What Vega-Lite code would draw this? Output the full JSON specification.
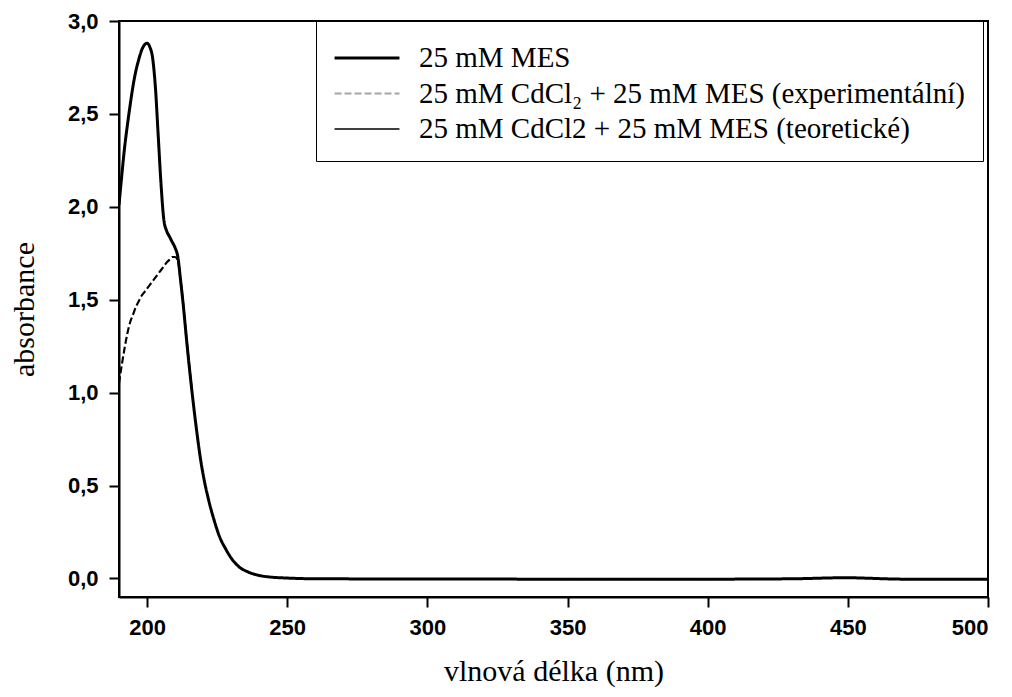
{
  "$schema": "https://vega.github.io/schema/vega-lite/v6.json",
  "autosize": "none",
  "padding": {"left": 119, "top": 21, "right": 24, "bottom": 100},
  "width": 869,
  "height": 576,
  "background": "white",
  "config": {
    "view": {"stroke": "black", "strokeWidth": 2},
    "axis": {"domainColor": "black", "domainWidth": 2, "tickColor": "black", "tickWidth": 2, "tickSize": 10, "grid": false,
      "labelFont": "Liberation Sans", "labelFontSize": 22, "labelFontWeight": "bold", "labelColor": "black",
      "titleFont": "Liberation Serif", "titleFontWeight": "normal", "titleColor": "black", "titleFontSize": 30, "titleBaseline": "alphabetic"}
  },
  "datasets": {
    "spectra": [
      {"nm": 190, "a": 2.01, "s": "25 mM MES"}, {"nm": 191, "a": 2.17, "s": "25 mM MES"}, {"nm": 192, "a": 2.32, "s": "25 mM MES"},
      {"nm": 193, "a": 2.44, "s": "25 mM MES"}, {"nm": 194, "a": 2.55, "s": "25 mM MES"}, {"nm": 195, "a": 2.65, "s": "25 mM MES"},
      {"nm": 196, "a": 2.73, "s": "25 mM MES"}, {"nm": 197, "a": 2.79, "s": "25 mM MES"}, {"nm": 198, "a": 2.84, "s": "25 mM MES"},
      {"nm": 199, "a": 2.87, "s": "25 mM MES"}, {"nm": 200, "a": 2.88, "s": "25 mM MES"}, {"nm": 201, "a": 2.86, "s": "25 mM MES"},
      {"nm": 202, "a": 2.8, "s": "25 mM MES"}, {"nm": 203, "a": 2.64, "s": "25 mM MES"}, {"nm": 204, "a": 2.38, "s": "25 mM MES"},
      {"nm": 205, "a": 2.12, "s": "25 mM MES"}, {"nm": 206, "a": 1.93, "s": "25 mM MES"}, {"nm": 207, "a": 1.87, "s": "25 mM MES"},
      {"nm": 208, "a": 1.84, "s": "25 mM MES"}, {"nm": 209, "a": 1.81, "s": "25 mM MES"}, {"nm": 210, "a": 1.78, "s": "25 mM MES"},
      {"nm": 211, "a": 1.73, "s": "25 mM MES"}, {"nm": 212, "a": 1.6, "s": "25 mM MES"}, {"nm": 213, "a": 1.46, "s": "25 mM MES"},
      {"nm": 214, "a": 1.3, "s": "25 mM MES"}, {"nm": 215, "a": 1.15, "s": "25 mM MES"}, {"nm": 216, "a": 1.01, "s": "25 mM MES"},
      {"nm": 217, "a": 0.88, "s": "25 mM MES"}, {"nm": 218, "a": 0.76, "s": "25 mM MES"}, {"nm": 219, "a": 0.65, "s": "25 mM MES"},
      {"nm": 220, "a": 0.56, "s": "25 mM MES"}, {"nm": 222, "a": 0.42, "s": "25 mM MES"}, {"nm": 224, "a": 0.31, "s": "25 mM MES"},
      {"nm": 226, "a": 0.22, "s": "25 mM MES"}, {"nm": 228, "a": 0.16, "s": "25 mM MES"}, {"nm": 230, "a": 0.11, "s": "25 mM MES"},
      {"nm": 233, "a": 0.06, "s": "25 mM MES"}, {"nm": 236, "a": 0.035, "s": "25 mM MES"}, {"nm": 240, "a": 0.016, "s": "25 mM MES"},
      {"nm": 245, "a": 0.006, "s": "25 mM MES"}, {"nm": 250, "a": 0.002, "s": "25 mM MES"}, {"nm": 260, "a": -0.002, "s": "25 mM MES"},
      {"nm": 300, "a": -0.003, "s": "25 mM MES"}, {"nm": 350, "a": -0.004, "s": "25 mM MES"}, {"nm": 400, "a": -0.004, "s": "25 mM MES"},
      {"nm": 430, "a": -0.002, "s": "25 mM MES"}, {"nm": 445, "a": 0.003, "s": "25 mM MES"}, {"nm": 450, "a": 0.004, "s": "25 mM MES"},
      {"nm": 455, "a": 0.002, "s": "25 mM MES"}, {"nm": 470, "a": -0.004, "s": "25 mM MES"}, {"nm": 500, "a": -0.005, "s": "25 mM MES"},

      {"nm": 190, "a": 1.05, "s": "25 mM CdCl₂ + 25 mM MES (experimentální)"}, {"nm": 191, "a": 1.15, "s": "25 mM CdCl₂ + 25 mM MES (experimentální)"},
      {"nm": 192, "a": 1.24, "s": "25 mM CdCl₂ + 25 mM MES (experimentální)"}, {"nm": 193, "a": 1.32, "s": "25 mM CdCl₂ + 25 mM MES (experimentální)"},
      {"nm": 194, "a": 1.38, "s": "25 mM CdCl₂ + 25 mM MES (experimentální)"}, {"nm": 195, "a": 1.42, "s": "25 mM CdCl₂ + 25 mM MES (experimentální)"},
      {"nm": 196, "a": 1.46, "s": "25 mM CdCl₂ + 25 mM MES (experimentální)"}, {"nm": 197, "a": 1.49, "s": "25 mM CdCl₂ + 25 mM MES (experimentální)"},
      {"nm": 198, "a": 1.52, "s": "25 mM CdCl₂ + 25 mM MES (experimentální)"}, {"nm": 199, "a": 1.54, "s": "25 mM CdCl₂ + 25 mM MES (experimentální)"},
      {"nm": 200, "a": 1.56, "s": "25 mM CdCl₂ + 25 mM MES (experimentální)"}, {"nm": 201, "a": 1.58, "s": "25 mM CdCl₂ + 25 mM MES (experimentální)"},
      {"nm": 202, "a": 1.6, "s": "25 mM CdCl₂ + 25 mM MES (experimentální)"}, {"nm": 203, "a": 1.62, "s": "25 mM CdCl₂ + 25 mM MES (experimentální)"},
      {"nm": 204, "a": 1.64, "s": "25 mM CdCl₂ + 25 mM MES (experimentální)"}, {"nm": 205, "a": 1.66, "s": "25 mM CdCl₂ + 25 mM MES (experimentální)"},
      {"nm": 206, "a": 1.68, "s": "25 mM CdCl₂ + 25 mM MES (experimentální)"}, {"nm": 207, "a": 1.7, "s": "25 mM CdCl₂ + 25 mM MES (experimentální)"},
      {"nm": 208, "a": 1.715, "s": "25 mM CdCl₂ + 25 mM MES (experimentální)"}, {"nm": 209, "a": 1.73, "s": "25 mM CdCl₂ + 25 mM MES (experimentální)"},
      {"nm": 210, "a": 1.73, "s": "25 mM CdCl₂ + 25 mM MES (experimentální)"}, {"nm": 211, "a": 1.71, "s": "25 mM CdCl₂ + 25 mM MES (experimentální)"},
      {"nm": 212, "a": 1.6, "s": "25 mM CdCl₂ + 25 mM MES (experimentální)"}, {"nm": 213, "a": 1.46, "s": "25 mM CdCl₂ + 25 mM MES (experimentální)"},
      {"nm": 214, "a": 1.3, "s": "25 mM CdCl₂ + 25 mM MES (experimentální)"}, {"nm": 216, "a": 1.01, "s": "25 mM CdCl₂ + 25 mM MES (experimentální)"},

      {"nm": 190, "a": 2.01, "s": "25 mM CdCl2 + 25 mM MES (teoretické)"}, {"nm": 191, "a": 2.17, "s": "25 mM CdCl2 + 25 mM MES (teoretické)"},
      {"nm": 192, "a": 2.32, "s": "25 mM CdCl2 + 25 mM MES (teoretické)"}, {"nm": 193, "a": 2.44, "s": "25 mM CdCl2 + 25 mM MES (teoretické)"},
      {"nm": 194, "a": 2.55, "s": "25 mM CdCl2 + 25 mM MES (teoretické)"}, {"nm": 195, "a": 2.65, "s": "25 mM CdCl2 + 25 mM MES (teoretické)"},
      {"nm": 196, "a": 2.73, "s": "25 mM CdCl2 + 25 mM MES (teoretické)"}, {"nm": 197, "a": 2.79, "s": "25 mM CdCl2 + 25 mM MES (teoretické)"},
      {"nm": 198, "a": 2.84, "s": "25 mM CdCl2 + 25 mM MES (teoretické)"}, {"nm": 199, "a": 2.87, "s": "25 mM CdCl2 + 25 mM MES (teoretické)"},
      {"nm": 200, "a": 2.88, "s": "25 mM CdCl2 + 25 mM MES (teoretické)"}, {"nm": 201, "a": 2.86, "s": "25 mM CdCl2 + 25 mM MES (teoretické)"},
      {"nm": 202, "a": 2.8, "s": "25 mM CdCl2 + 25 mM MES (teoretické)"}, {"nm": 203, "a": 2.64, "s": "25 mM CdCl2 + 25 mM MES (teoretické)"},
      {"nm": 204, "a": 2.38, "s": "25 mM CdCl2 + 25 mM MES (teoretické)"}, {"nm": 205, "a": 2.12, "s": "25 mM CdCl2 + 25 mM MES (teoretické)"},
      {"nm": 206, "a": 1.93, "s": "25 mM CdCl2 + 25 mM MES (teoretické)"}, {"nm": 207, "a": 1.87, "s": "25 mM CdCl2 + 25 mM MES (teoretické)"},
      {"nm": 208, "a": 1.84, "s": "25 mM CdCl2 + 25 mM MES (teoretické)"}, {"nm": 209, "a": 1.81, "s": "25 mM CdCl2 + 25 mM MES (teoretické)"},
      {"nm": 210, "a": 1.78, "s": "25 mM CdCl2 + 25 mM MES (teoretické)"}, {"nm": 211, "a": 1.73, "s": "25 mM CdCl2 + 25 mM MES (teoretické)"},
      {"nm": 212, "a": 1.6, "s": "25 mM CdCl2 + 25 mM MES (teoretické)"}, {"nm": 213, "a": 1.46, "s": "25 mM CdCl2 + 25 mM MES (teoretické)"},
      {"nm": 214, "a": 1.3, "s": "25 mM CdCl2 + 25 mM MES (teoretické)"}, {"nm": 215, "a": 1.15, "s": "25 mM CdCl2 + 25 mM MES (teoretické)"},
      {"nm": 216, "a": 1.01, "s": "25 mM CdCl2 + 25 mM MES (teoretické)"}, {"nm": 217, "a": 0.88, "s": "25 mM CdCl2 + 25 mM MES (teoretické)"},
      {"nm": 218, "a": 0.76, "s": "25 mM CdCl2 + 25 mM MES (teoretické)"}, {"nm": 219, "a": 0.65, "s": "25 mM CdCl2 + 25 mM MES (teoretické)"},
      {"nm": 220, "a": 0.56, "s": "25 mM CdCl2 + 25 mM MES (teoretické)"}, {"nm": 222, "a": 0.42, "s": "25 mM CdCl2 + 25 mM MES (teoretické)"},
      {"nm": 224, "a": 0.31, "s": "25 mM CdCl2 + 25 mM MES (teoretické)"}, {"nm": 226, "a": 0.22, "s": "25 mM CdCl2 + 25 mM MES (teoretické)"},
      {"nm": 228, "a": 0.16, "s": "25 mM CdCl2 + 25 mM MES (teoretické)"}, {"nm": 230, "a": 0.11, "s": "25 mM CdCl2 + 25 mM MES (teoretické)"},
      {"nm": 233, "a": 0.06, "s": "25 mM CdCl2 + 25 mM MES (teoretické)"}, {"nm": 236, "a": 0.035, "s": "25 mM CdCl2 + 25 mM MES (teoretické)"},
      {"nm": 240, "a": 0.016, "s": "25 mM CdCl2 + 25 mM MES (teoretické)"}, {"nm": 245, "a": 0.006, "s": "25 mM CdCl2 + 25 mM MES (teoretické)"},
      {"nm": 250, "a": 0.002, "s": "25 mM CdCl2 + 25 mM MES (teoretické)"}, {"nm": 260, "a": -0.002, "s": "25 mM CdCl2 + 25 mM MES (teoretické)"},
      {"nm": 300, "a": -0.003, "s": "25 mM CdCl2 + 25 mM MES (teoretické)"}, {"nm": 350, "a": -0.004, "s": "25 mM CdCl2 + 25 mM MES (teoretické)"},
      {"nm": 400, "a": -0.004, "s": "25 mM CdCl2 + 25 mM MES (teoretické)"}, {"nm": 430, "a": -0.002, "s": "25 mM CdCl2 + 25 mM MES (teoretické)"},
      {"nm": 445, "a": 0.003, "s": "25 mM CdCl2 + 25 mM MES (teoretické)"}, {"nm": 450, "a": 0.004, "s": "25 mM CdCl2 + 25 mM MES (teoretické)"},
      {"nm": 455, "a": 0.002, "s": "25 mM CdCl2 + 25 mM MES (teoretické)"}, {"nm": 470, "a": -0.004, "s": "25 mM CdCl2 + 25 mM MES (teoretické)"},
      {"nm": 500, "a": -0.005, "s": "25 mM CdCl2 + 25 mM MES (teoretické)"}
    ]
  },
  "data": {"name": "spectra"},
  "mark": {"type": "line", "clip": true, "interpolate": "monotone"},
  "encoding": {
    "x": {"field": "nm", "type": "quantitative",
      "scale": {"domain": [190, 500], "nice": false, "zero": false},
      "axis": {"values": [200, 250, 300, 350, 400, 450, 500], "title": "vlnová délka (nm)", "labelPadding": 10, "titleY": 83}},
    "y": {"field": "a", "type": "quantitative",
      "scale": {"domain": [-0.1, 3.0], "nice": false, "zero": false},
      "axis": {"values": [0, 0.5, 1, 1.5, 2, 2.5, 3], "labelExpr": "replace(format(datum.value, '.1f'), '.', ',')", "title": "absorbance", "labelPadding": 11, "titleX": -86}},
    "color": {"field": "s", "type": "nominal",
      "scale": {"domain": ["25 mM MES", "25 mM CdCl₂ + 25 mM MES (experimentální)", "25 mM CdCl2 + 25 mM MES (teoretické)"], "range": ["black", "black", "black"]},
      "legend": {"title": null, "orient": "none", "legendX": 197, "legendY": 0, "strokeColor": "black", "fillColor": "white", "padding": 17,
        "labelFont": "Liberation Serif", "labelFontSize": 29, "labelColor": "black", "labelLimit": 800, "labelOffset": 32,
        "symbolType": "M-1.8,0H1.8", "symbolSize": 1300, "symbolOffset": 14, "rowPadding": 1,
        "encode": {"symbols": {"update": {
          "opacity": {"signal": "indexof(datum.label, 'experiment') >= 0 ? 0.35 : 1"}
        }}}}},
    "strokeDash": {"field": "s", "type": "nominal",
      "scale": {"domain": ["25 mM MES", "25 mM CdCl₂ + 25 mM MES (experimentální)", "25 mM CdCl2 + 25 mM MES (teoretické)"], "range": [[1, 0], [7, 3], [1, 0]]}},
    "strokeWidth": {"field": "s", "type": "nominal",
      "scale": {"domain": ["25 mM MES", "25 mM CdCl₂ + 25 mM MES (experimentální)", "25 mM CdCl2 + 25 mM MES (teoretické)"], "range": [3, 1.3, 3]}}
  }
}
